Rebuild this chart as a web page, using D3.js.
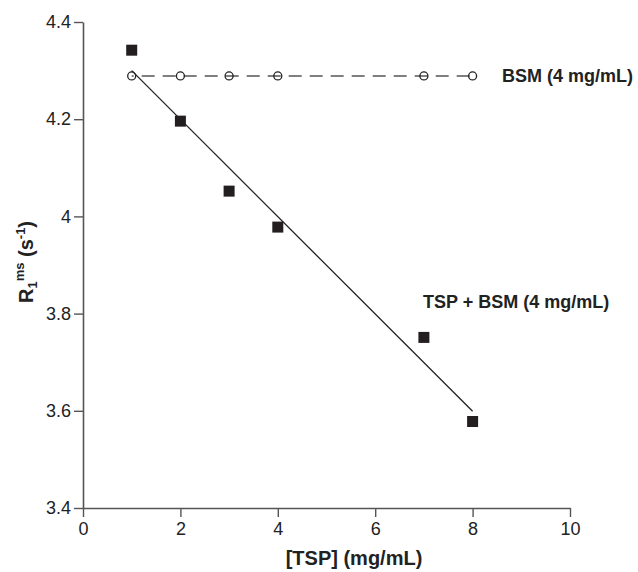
<!DOCTYPE html>
<html>
<head>
<meta charset="utf-8">
<script src="https://cdn.jsdelivr.net/npm/d3@7"></script>
<style>
  body { margin: 0; background: #fff; }
  text { font-family: "Liberation Sans", Arial, sans-serif; }
</style>
</head>
<body>
<div id="chart"></div>
<script>
// TSP concentration (mg/mL)
const tspConc = [1, 2, 3, 4, 7, 8];
// R1 ms values for TSP + BSM (4 mg/mL)
const tspBsm = [4.342, 4.196, 4.052, 3.978, 3.751, 3.578];
// R1 ms values for BSM alone (4 mg/mL)
const bsmOnly = [4.289, 4.289, 4.289, 4.289, 4.289, 4.289];

const xTicks = [0, 2, 4, 6, 8, 10];
const yTicks = [3.4, 3.6, 3.8, 4.0, 4.2, 4.4];
const yTickLabels = ["3.4", "3.6", "3.8", "4", "4.2", "4.4"];

const width = 638, height = 572;

const svg = d3.select("#chart").append("svg")
    .attr("width", width)
    .attr("height", height);

const x = d3.scaleLinear().domain([0, 10]).range([83, 570]);
const y = d3.scaleLinear().domain([3.4, 4.4]).range([508, 22]);

// axes
const xAxis = svg.append("g")
    .attr("transform", "translate(0," + y(3.4) + ")")
    .call(d3.axisBottom(x).tickValues(xTicks).tickSize(9).tickSizeOuter(0).tickPadding(5));
const yAxis = svg.append("g")
    .attr("transform", "translate(" + x(0) + ",0)")
    .call(d3.axisLeft(y).tickValues(yTicks).tickSize(9).tickSizeOuter(0).tickPadding(3)
        .tickFormat((d, i) => yTickLabels[i]));

[xAxis, yAxis].forEach(g => {
    g.select(".domain").attr("stroke", "#555").attr("stroke-width", 1.6);
    g.selectAll(".tick line").attr("stroke", "#555").attr("stroke-width", 1.4);
    g.selectAll(".tick text")
        .attr("fill", "#222")
        .style("font-size", "18px")
        .style("font-family", "'Liberation Sans', Arial, sans-serif");
});

// BSM dashed line
const bsmPts = tspConc.map((c, i) => [c, bsmOnly[i]]);
svg.append("path")
    .attr("d", d3.line().x(d => x(d[0])).y(d => y(d[1]))(bsmPts))
    .attr("fill", "none")
    .attr("stroke", "#555")
    .attr("stroke-width", 1.5)
    .attr("stroke-dasharray", "13,8")
    .attr("stroke-dashoffset", 11);

// least-squares fit for TSP + BSM
const mx = d3.mean(tspConc), my = d3.mean(tspBsm);
const sxy = d3.sum(tspConc, (c, i) => (c - mx) * (tspBsm[i] - my));
const sxx = d3.sum(tspConc, c => (c - mx) * (c - mx));
const slope = sxy / sxx, icpt = my - slope * mx;
const fitX = d3.extent(tspConc);
svg.append("path")
    .attr("d", d3.line().x(d => x(d)).y(d => y(icpt + slope * d))(fitX))
    .attr("fill", "none")
    .attr("stroke", "#222")
    .attr("stroke-width", 1.3);

// BSM open circles
svg.selectAll("circle.bsm")
    .data(bsmPts)
    .enter()
    .append("circle")
    .attr("class", "bsm")
    .attr("cx", d => x(d[0]))
    .attr("cy", d => y(d[1]))
    .attr("r", 4)
    .attr("fill", "none")
    .attr("stroke", "#222")
    .attr("stroke-width", 1.3);

// TSP + BSM filled squares
const sq = 11;
svg.selectAll("rect.tsp")
    .data(tspConc.map((c, i) => [c, tspBsm[i]]))
    .enter()
    .append("rect")
    .attr("class", "tsp")
    .attr("x", d => x(d[0]) - sq / 2)
    .attr("y", d => y(d[1]) - sq / 2)
    .attr("width", sq)
    .attr("height", sq)
    .attr("fill", "#231f20");

// series labels
svg.append("text")
    .attr("x", 502).attr("y", 82)
    .attr("font-size", 18).attr("font-weight", "bold").attr("fill", "#222")
    .text("BSM (4 mg/mL)");
svg.append("text")
    .attr("x", 423).attr("y", 308)
    .attr("font-size", 18).attr("font-weight", "bold").attr("fill", "#222")
    .text("TSP + BSM (4 mg/mL)");

// x title
svg.append("text")
    .attr("x", 354).attr("y", 565)
    .attr("text-anchor", "middle")
    .attr("font-size", 20).attr("font-weight", "bold").attr("fill", "#222")
    .text("[TSP] (mg/mL)");

// y title with sub/superscripts
const yt = svg.append("text")
    .attr("transform", "translate(33,262) rotate(-90)")
    .attr("text-anchor", "middle")
    .attr("font-size", 20).attr("font-weight", "bold").attr("fill", "#222");
yt.append("tspan").text("R");
yt.append("tspan").attr("font-size", 13).attr("dy", 4).text("1");
yt.append("tspan").attr("font-size", 13).attr("dy", -13).text("ms");
yt.append("tspan").attr("dy", 9).text(" (s");
yt.append("tspan").attr("font-size", 13).attr("dy", -8).text("-1");
yt.append("tspan").attr("dy", 8).text(")");
</script>
</body>
</html>
